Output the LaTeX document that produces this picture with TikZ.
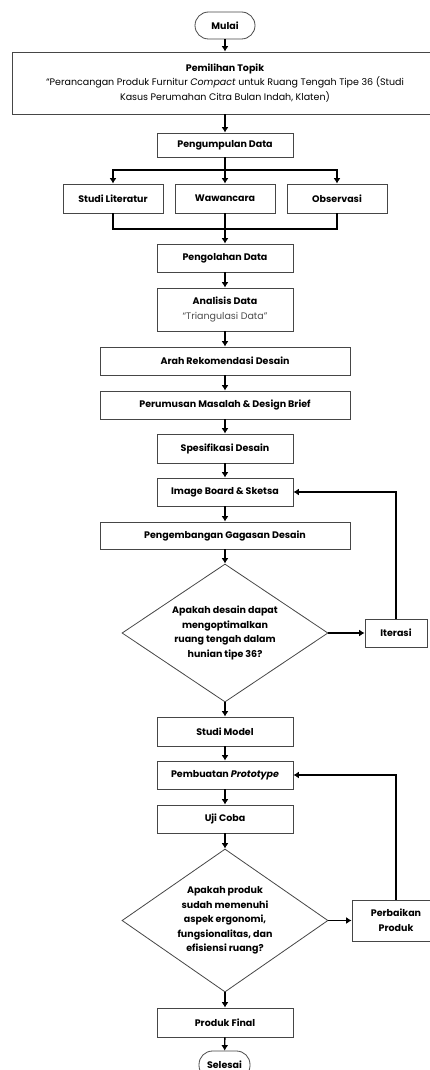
\documentclass[tikz,border=0pt]{standalone}
\usepackage{fontspec}
\setmainfont{Poppins}
\usetikzlibrary{shapes.geometric,arrows.meta}

\tikzset{every picture/.style={line width=0.75pt}}
\tikzset{
  kotak/.style={draw={rgb, 255:red, 70; green, 70; blue, 70 }, line width=0.8pt, rectangle, inner sep=0pt, align=center, fill=white, font=\bfseries\fontsize{9.5}{14.5}\selectfont},
  terminal/.style={kotak, rounded corners=13.5pt},
  keputusan/.style={kotak, diamond, aspect=1.5},
  panah/.style={draw=black, line width=1.4pt, -{Latex[length=5.5pt,width=7pt]}},
  garis/.style={draw=black, line width=1.4pt}
}

\begin{document}
\begin{tikzpicture}[x=1pt,y=1pt,yscale=-1,xscale=1]
\useasboundingbox (0,0) rectangle (430,1070);

%Shape: Terminal [id:mulai]
\node [terminal, minimum width=60, minimum height=27] (mulai) at (225,25.5) {Mulai};
%Shape: Rectangle [id:topik]
\node [kotak, minimum width=426, minimum height=62, font=\fontsize{9.5}{14.2}\selectfont] (topik) at (225,83) {\textbf{Pemilihan Topik}\\``Perancangan Produk Furnitur \textit{Compact} untuk Ruang Tengah Tipe 36 (Studi\\Kasus Perumahan Citra Bulan Indah, Klaten)};
%Shape: Rectangle [id:kumpul]
\node [kotak, minimum width=136, minimum height=24] (kumpul) at (225,145) {Pengumpulan Data};
%Shape: Rectangle [id:literatur]
\node [kotak, minimum width=100, minimum height=29] (literatur) at (113,198.5) {Studi Literatur};
%Shape: Rectangle [id:wawancara]
\node [kotak, minimum width=100, minimum height=29] (wawancara) at (225,198.5) {Wawancara};
%Shape: Rectangle [id:observasi]
\node [kotak, minimum width=100, minimum height=29] (observasi) at (337,198.5) {Observasi};
%Shape: Rectangle [id:olah]
\node [kotak, minimum width=136, minimum height=28] (olah) at (225,258) {Pengolahan Data};
%Shape: Rectangle [id:analisis]
\node [kotak, minimum width=136, minimum height=43, font=\fontsize{9.5}{15}\selectfont] (analisis) at (225,309.5) {\textbf{Analisis Data}\\\textcolor{black!70}{``Triangulasi Data''}};
%Shape: Rectangle [id:arah]
\node [kotak, minimum width=250, minimum height=28] (arah) at (225,361) {Arah Rekomendasi Desain};
%Shape: Rectangle [id:rumus]
\node [kotak, minimum width=250, minimum height=28] (rumus) at (225,405) {Perumusan Masalah \& Design Brief};
%Shape: Rectangle [id:spek]
\node [kotak, minimum width=136, minimum height=29] (spek) at (225,448.5) {Spesifikasi Desain};
%Shape: Rectangle [id:board]
\node [kotak, minimum width=136, minimum height=28] (board) at (225,492) {Image Board \& Sketsa};
%Shape: Rectangle [id:kembang]
\node [kotak, minimum width=250, minimum height=27] (kembang) at (225,535.5) {Pengembangan Gagasan Desain};
%Shape: Diamond [id:tanya1]
\node [keputusan, minimum width=206, minimum height=138] (tanya1) at (225,633) {Apakah desain dapat\\mengoptimalkan\\ruang tengah dalam\\hunian tipe 36?};
%Shape: Rectangle [id:iterasi]
\node [kotak, minimum width=62, minimum height=28] (iterasi) at (396,633) {Iterasi};
%Shape: Rectangle [id:model]
\node [kotak, minimum width=136, minimum height=29] (model) at (225,731.5) {Studi Model};
%Shape: Rectangle [id:proto]
\node [kotak, minimum width=136, minimum height=28] (proto) at (225,775) {Pembuatan \textit{Prototype}};
%Shape: Rectangle [id:uji]
\node [kotak, minimum width=136, minimum height=28] (uji) at (225,819) {Uji Coba};
%Shape: Diamond [id:tanya2]
\node [keputusan, minimum width=206, minimum height=143] (tanya2) at (225,920.5) {Apakah produk\\sudah memenuhi\\aspek ergonomi,\\fungsionalitas, dan\\efisiensi ruang?};
%Shape: Rectangle [id:perbaikan]
\node [kotak, minimum width=88, minimum height=41, font=\bfseries\fontsize{9.5}{15}\selectfont] (perbaikan) at (396,920.5) {Perbaikan\\Produk};
%Shape: Rectangle [id:final]
\node [kotak, minimum width=136, minimum height=29] (final) at (225,1022.5) {Produk Final};
%Shape: Terminal [id:selesai]
\node [terminal, minimum width=51, minimum height=28] (selesai) at (224.5,1065) {Selesai};

%Straight Lines [id:cabang]
\coordinate (cabang) at (225,170);
\coordinate (gabung) at (225,229);
\draw [panah] (mulai) -- (topik);
\draw [panah] (topik) -- (kumpul);
\draw [garis] (kumpul) -- (cabang);
\draw [panah] (cabang) -| (literatur);
\draw [panah] (cabang) -- (wawancara);
\draw [panah] (cabang) -| (observasi);
%Straight Lines [id:gabung]
\draw [garis] (literatur) |- (gabung);
\draw [garis] (observasi) |- (gabung);
\draw [panah] (wawancara) -- (olah);
\draw [panah] (olah) -- (analisis);
\draw [panah] (analisis) -- (arah);
\draw [panah] (arah) -- (rumus);
\draw [panah] (rumus) -- (spek);
\draw [panah] (spek) -- (board);
\draw [panah] (board) -- (kembang);
\draw [panah] (kembang) -- (tanya1);
%Straight Lines [id:iterasi loop]
\draw [panah] (tanya1) -- (iterasi);
\draw [panah] (iterasi) |- (board);
\draw [panah] (tanya1) -- (model);
\draw [panah] (model) -- (proto);
\draw [panah] (proto) -- (uji);
\draw [panah] (uji) -- (tanya2);
%Straight Lines [id:perbaikan loop]
\draw [panah] (tanya2) -- (perbaikan);
\draw [panah] (perbaikan) |- (proto);
\draw [panah] (tanya2) -- (final);
\draw [panah] (final) -- (selesai);

\end{tikzpicture}
\end{document}
